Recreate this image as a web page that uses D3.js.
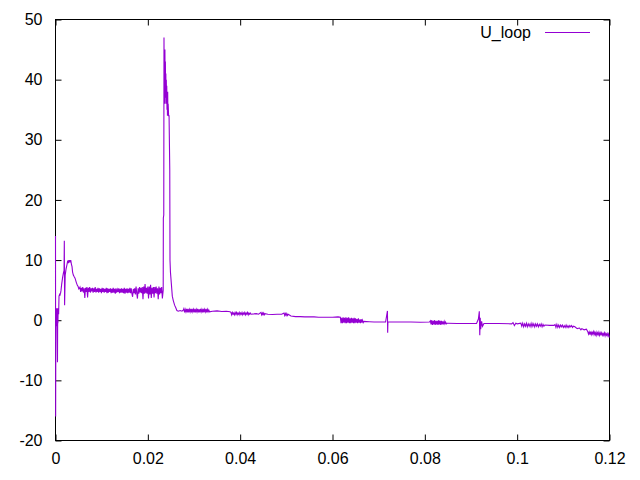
<!DOCTYPE html>
<html><head><meta charset="utf-8">
<script src="https://cdn.jsdelivr.net/npm/d3@7"></script>
<style>body{margin:0;background:#fff}svg{display:block}text{font-family:"Liberation Sans",Arial,sans-serif;font-size:16px;fill:#000}</style>
</head><body>
<script>
const seriesName = "U_loop";
const xTicks = [0, 0.02, 0.04, 0.06, 0.08, 0.1, 0.12];
const xTickLabels = ["0", "0.02", "0.04", "0.06", "0.08", "0.1", "0.12"];
const yTicks = [-20, -10, 0, 10, 20, 30, 40, 50];
const yTickLabels = ["-20", "-10", "0", "10", "20", "30", "40", "50"];

// time (s) / voltage segments
const tStart = [0, 0.00003, 0.00008, 0.00012, 0.00016, 0.0002, 0.00024, 0.00028, 0.00032, 0.00036, 0.00043, 0.00048, 0.00052, 0.00056, 0.0006, 0.00068, 0.00076, 0.0009, 0.00098, 0.0011, 0.0012, 0.00134, 0.00156, 0.0017, 0.00185, 0.00191, 0.00197, 0.0021, 0.00228, 0.0025, 0.00265, 0.0028, 0.0029, 0.003, 0.0031, 0.0032, 0.0033, 0.00345, 0.00358, 0.0037, 0.00386, 0.004, 0.00423, 0.0045, 0.00473, 0.0049, 0.00505, 0.00516];
const vStart = [14, -16, 1, -1, 2, 0, 1.5, -0.5, 2, -1, -7, 2, -0.5, 1, 2, 1, 4, 4.3, 4.2, 4.5, 5, 6, 7.2, 7.8, 8.3, 13.2, 2.5, 7.5, 8.5, 9.3, 9.9, 9.5, 10, 9.6, 10, 9.6, 10, 9.3, 8.9, 8, 7.5, 7.3, 7, 6.3, 5.8, 5.6, 5.2, 5.3];

const tPlateau = [0.0053, 0.00545, 0.0056, 0.00575, 0.0059, 0.00605, 0.0062, 0.00635, 0.0065, 0.00665,
  0.0068, 0.00695, 0.0071, 0.00725, 0.0074, 0.00755, 0.0077, 0.00785, 0.008, 0.00815,
  0.0083, 0.00845, 0.0086, 0.00875, 0.0089, 0.00905, 0.0092, 0.00935, 0.0095, 0.00965,
  0.0098, 0.00995, 0.0101, 0.01025, 0.0104, 0.01055, 0.0107, 0.01085, 0.011, 0.01115,
  0.0113, 0.01145, 0.0116, 0.01175, 0.0119, 0.01205, 0.0122, 0.01235, 0.0125, 0.01265,
  0.0128, 0.01295, 0.0131, 0.01325, 0.0134, 0.01355, 0.0137, 0.01385, 0.014, 0.01415,
  0.0143, 0.01445, 0.0146, 0.01475, 0.0149, 0.01505, 0.0152, 0.01535, 0.0155, 0.01565,
  0.0158, 0.01595, 0.0161, 0.01625, 0.0164, 0.01655, 0.0167, 0.01685, 0.017, 0.01715,
  0.0173, 0.01745, 0.0176, 0.01775, 0.0179, 0.01805, 0.0182, 0.01835, 0.0185, 0.01865,
  0.0188, 0.01895, 0.0191, 0.01925, 0.0194, 0.01955, 0.0197, 0.01985, 0.02, 0.02015,
  0.0203, 0.02045, 0.0206, 0.02075, 0.0209, 0.02105, 0.0212, 0.02135, 0.0215, 0.02165,
  0.0218, 0.02195, 0.0221, 0.02225, 0.0224, 0.02255, 0.0227, 0.02285, 0.023, 0.02315];
const vPlateau = [5.5, 4.7, 5.4, 4.8, 5.5, 4.6, 5.3, 3.7, 5.4, 4.7,
  5.5, 3.8, 5.4, 4.7, 5.5, 4.6, 5.3, 4.8, 5.4, 4.6,
  5.3, 4.7, 5.5, 4.6, 5.2, 4.7, 5.4, 4.6, 5.3, 4.7,
  5.2, 4.5, 5.4, 4.7, 5.3, 4.6, 5.2, 4.7, 5.4, 4.5,
  5.3, 4.6, 5.2, 4.7, 5.3, 4.5, 5.2, 4.6, 5.4, 4.6,
  5.2, 4.4, 5.3, 4.6, 5.1, 4.7, 5.3, 4.5, 5.2, 4.6,
  5.3, 4.6, 5.2, 4.5, 5.4, 4.4, 5.2, 4.6, 5.3, 4.5,
  5.2, 4.6, 5.4, 4.5, 5.3, 4.4, 3.9, 5.2, 4.5, 5.3,
  4.3, 5.6, 4.5, 3.6, 5.3, 4.4, 5.5, 4.6, 5.4, 4.5,
  5.5, 3.5, 5.6, 4.4, 6.0, 4.5, 5.4, 4.4, 5.6, 3.6,
  5.6, 4.3, 5.9, 3.7, 5.4, 4.4, 5.5, 3.8, 5.5, 4.5,
  5.6, 4.4, 5.3, 3.5, 5.6, 4.3, 5.4, 4.5, 5.5, 3.6];

const tSpike = [0.02333, 0.02336, 0.02345, 0.0235, 0.02355, 0.0236, 0.02365, 0.0237, 0.02375, 0.0238, 0.02385, 0.0239, 0.02395, 0.024, 0.02405, 0.0241, 0.02415, 0.0242, 0.02425, 0.0243, 0.02435, 0.0244, 0.0245, 0.0246, 0.02475, 0.0248, 0.0249, 0.0251, 0.0253, 0.0255, 0.0258, 0.0261];
const vSpike = [5, 17, 17.5, 47, 38, 42, 36, 45, 37, 43, 38, 41, 36, 40, 37, 39, 35, 38, 34, 38, 34, 36, 34, 34, 25, 10, 8, 6, 4, 3.3, 2.5, 2];

const tTail1 = [0.0263, 0.0266, 0.027, 0.0274, 0.0277,
  0.0278, 0.02795, 0.0281, 0.02825, 0.0284, 0.02855, 0.0287, 0.02885, 0.029, 0.02915,
  0.0293, 0.02945, 0.0296, 0.02975, 0.0299, 0.03005, 0.0302, 0.03035, 0.0305, 0.03065,
  0.0308, 0.03095, 0.0311, 0.03125, 0.0314, 0.03155, 0.0317, 0.03185, 0.032, 0.03215,
  0.0323, 0.03245, 0.0326, 0.03275, 0.0329, 0.03305, 0.0332, 0.03335,
  0.034, 0.035, 0.036, 0.037, 0.0378];
const vTail1 = [1.6, 1.5, 1.6, 1.5, 1.7,
  1.9, 1.3, 1.8, 1.4, 1.9, 1.3, 1.9, 1.3, 1.8, 1.4,
  1.9, 1.3, 1.9, 1.4, 1.8, 1.3, 1.9, 1.3, 1.8, 1.4,
  1.9, 1.3, 1.8, 1.3, 1.9, 1.4, 1.8, 1.3, 1.9, 1.3,
  1.8, 1.4, 1.9, 1.3, 1.8, 1.4, 1.7, 1.4,
  1.5, 1.55, 1.45, 1.5, 1.4];

const tTail2 = [0.038, 0.03815, 0.0383, 0.03845, 0.0386, 0.03875, 0.0389, 0.03905, 0.0392, 0.03935,
  0.0395, 0.03965, 0.0398, 0.03995, 0.0401, 0.04025, 0.0404, 0.04055, 0.0407, 0.04085,
  0.041, 0.04115, 0.0413, 0.04145, 0.0416, 0.04175, 0.0419, 0.04205, 0.0422, 0.04235,
  0.043, 0.0435, 0.044,
  0.0445, 0.04465, 0.0448, 0.04495, 0.0451, 0.04525, 0.0454,
  0.046, 0.047, 0.048, 0.049,
  0.0495, 0.04965, 0.0498, 0.04995, 0.0501, 0.05025, 0.0504,
  0.051, 0.052, 0.053, 0.054, 0.055, 0.056, 0.057, 0.058, 0.059, 0.060, 0.0612];
const vTail2 = [1.3, 0.9, 1.3, 1.0, 1.2, 0.9, 1.3, 1.0, 1.3, 0.9,
  1.2, 1.0, 1.3, 0.9, 1.2, 1.0, 1.3, 0.9, 1.2, 1.0,
  1.3, 0.9, 1.2, 1.0, 1.3, 0.9, 1.2, 1.0, 1.2, 1.0,
  1.05, 1.1, 1.0,
  1.3, 0.9, 1.2, 0.9, 1.2, 0.9, 1.1,
  1.0, 0.95, 1.0, 1.0,
  1.2, 0.8, 1.1, 0.8, 1.1, 0.8, 1.0,
  0.7, 0.6, 0.6, 0.55, 0.55, 0.55, 0.5, 0.5, 0.5, 0.5, 0.55];

const tTail3 = [0.0617, 0.06185, 0.062, 0.06215, 0.0623, 0.06245, 0.0626, 0.06275, 0.0629, 0.06305,
  0.0632, 0.06335, 0.0635, 0.06365, 0.0638, 0.06395, 0.0641, 0.06425, 0.0644, 0.06455,
  0.0647, 0.06485, 0.065, 0.06515, 0.0653, 0.06545, 0.0656, 0.06575, 0.0659, 0.06605,
  0.0662, 0.06635, 0.0665, 0.06665, 0.0668,
  0.068, 0.069, 0.070, 0.0715, 0.0719, 0.07195, 0.072, 0.073, 0.075, 0.077, 0.079, 0.081,
  0.0812, 0.08135, 0.0815, 0.08165, 0.0818, 0.08195, 0.0821, 0.08225, 0.0824, 0.08255,
  0.0827, 0.08285, 0.083, 0.08315, 0.0833, 0.08345, 0.0836, 0.08375, 0.0839, 0.08405,
  0.0842, 0.08435, 0.0845, 0.08465, 0.0848,
  0.085, 0.087, 0.089, 0.0912, 0.0916, 0.0918, 0.0919, 0.092, 0.0921, 0.0923, 0.0925, 0.0928,
  0.094, 0.096, 0.0988, 0.0991, 0.0994, 0.0997, 0.1];
const vTail3 = [0.5, -0.5, 0.4, -0.5, 0.5, -0.4, 0.4, -0.5, 0.5, -0.5,
  0.4, -0.4, 0.5, -0.5, 0.3, -0.5, 0.4, -0.4, 0.3, -0.5,
  0.4, -0.5, 0.3, -0.4, 0.2, -0.5, 0.3, -0.4, 0.1, -0.5,
  0.2, -0.4, 0.0, -0.4, -0.2,
  -0.25, -0.3, -0.3, -0.3, 1.55, -2.1, -0.3, -0.3, -0.3, -0.3, -0.35, -0.3,
  -0.1, -0.7, 0.0, -0.8, -0.1, -0.7, 0.0, -0.8, -0.1, -0.7,
  -0.1, -0.8, 0.0, -0.7, -0.1, -0.8, -0.1, -0.7, -0.2, -0.7,
  -0.2, -0.6, -0.3, -0.6, -0.5,
  -0.5, -0.55, -0.55, -0.55, 0.2, 1.5, -2.5, 0.4, -1.5, -0.2, -1.0, -0.55,
  -0.55, -0.55, -0.6, -0.4, -0.9, -0.5, -0.6];

const tTail4 = [0.1008, 0.101, 0.1012, 0.1014, 0.1016, 0.1018, 0.102, 0.1022, 0.1024, 0.1026,
  0.1028, 0.103, 0.1032, 0.1034, 0.1036, 0.1038, 0.104, 0.1042, 0.1044, 0.1046,
  0.1048, 0.105, 0.1052, 0.1054, 0.1056, 0.1058, 0.106,
  0.107, 0.108,
  0.1082, 0.1084, 0.1086, 0.1088, 0.109, 0.1092, 0.1094, 0.1096, 0.1098, 0.11,
  0.1102, 0.1104, 0.1106, 0.1108, 0.111, 0.1112, 0.1114, 0.1116, 0.1118, 0.112, 0.1122,
  0.1125, 0.113, 0.1135, 0.1138, 0.114, 0.1145, 0.115,
  0.1153, 0.11545, 0.1156, 0.11575, 0.1159, 0.11605, 0.1162, 0.11635, 0.1165, 0.11665,
  0.1168, 0.11695, 0.1171, 0.11725, 0.1174, 0.11755, 0.1177, 0.11785, 0.118, 0.11815,
  0.1183, 0.11845, 0.1186, 0.11875, 0.1189, 0.11905, 0.1192, 0.11935, 0.1195, 0.11965,
  0.1198, 0.11995];
const vTail4 = [-0.5, -1.0, -0.5, -1.1, -0.6, -1.0, -0.5, -1.1, -0.6, -1.0,
  -0.6, -1.1, -0.5, -1.0, -0.6, -1.1, -0.6, -1.0, -0.6, -1.1,
  -0.7, -1.0, -0.6, -1.1, -0.7, -1.0, -0.8,
  -0.85, -0.85,
  -0.7, -1.2, -0.7, -1.2, -0.8, -1.2, -0.8, -1.1, -0.8, -1.2,
  -0.9, -1.2, -0.8, -1.2, -0.9, -1.2, -0.9, -1.1, -0.9, -1.2, -1.0,
  -1.1, -1.4, -1.3, -1.6, -1.4, -1.6, -1.5,
  -1.9, -2.3, -1.95, -2.4, -1.9, -2.4, -2.0, -2.3, -1.9, -2.4,
  -2.0, -2.4, -2.0, -2.5, -2.1, -2.4, -2.0, -2.5, -2.1, -2.4,
  -2.1, -2.5, -2.2, -2.5, -2.1, -2.6, -2.2, -2.5, -2.2, -2.6,
  -2.3, -2.9];

const T = tStart.concat(tPlateau, tSpike, tTail1, tTail2, tTail3, tTail4);
const V = vStart.concat(vPlateau, vSpike, vTail1, vTail2, vTail3, vTail4);
const n = Math.min(T.length, V.length);
const data = T.slice(0, n).map((t, i) => [t, V[i]]);

const W = 640, H = 480;
const L = 55.5, R = 609.5, TOP = 19.5, BOT = 440.5;
const svg = d3.select("body").append("svg").attr("width", W).attr("height", H);

const x = d3.scaleLinear().domain([0, 0.12]).range([L, R]);
const y = d3.scaleLinear().domain([-20, 50]).range([BOT, TOP]);

const tl = 6;
const axB = svg.append("g").attr("transform", `translate(0,${BOT})`)
  .call(d3.axisBottom(x).tickValues(xTicks).tickSize(-tl).tickPadding(12).tickFormat((d, i) => xTickLabels[i]));
const axT = svg.append("g").attr("transform", `translate(0,${TOP})`)
  .call(d3.axisTop(x).tickValues(xTicks).tickSize(-tl).tickFormat(""));
const axL = svg.append("g").attr("transform", `translate(${L},0)`)
  .call(d3.axisLeft(y).tickValues(yTicks).tickSize(-tl).tickPadding(13).tickFormat((d, i) => yTickLabels[i]));
const axR = svg.append("g").attr("transform", `translate(${R},0)`)
  .call(d3.axisRight(y).tickValues(yTicks).tickSize(-tl).tickFormat(""));
[axB, axT, axL, axR].forEach(a => {
  a.select(".domain").remove();
  a.selectAll("line").attr("stroke", "#000").attr("stroke-width", 1);
  a.selectAll("text").attr("font-family", "Liberation Sans, Arial, sans-serif").attr("font-size", 16).attr("fill", "#000");
});

svg.append("rect").attr("x", L).attr("y", TOP).attr("width", R - L).attr("height", BOT - TOP)
  .attr("fill", "none").attr("stroke", "#000").attr("stroke-width", 1);

const line = d3.line().x(d => x(d[0])).y(d => y(d[1]));
svg.append("path").datum(data).attr("d", line).attr("fill", "none")
  .attr("stroke", "#9400d3").attr("stroke-width", 1.1);

// legend
svg.append("text").attr("x", 531).attr("y", 38).attr("text-anchor", "end").text(seriesName);
svg.append("line").attr("x1", 545).attr("x2", 590).attr("y1", 32.5).attr("y2", 32.5)
  .attr("stroke", "#9400d3").attr("stroke-width", 1);
</script>
</body></html>
